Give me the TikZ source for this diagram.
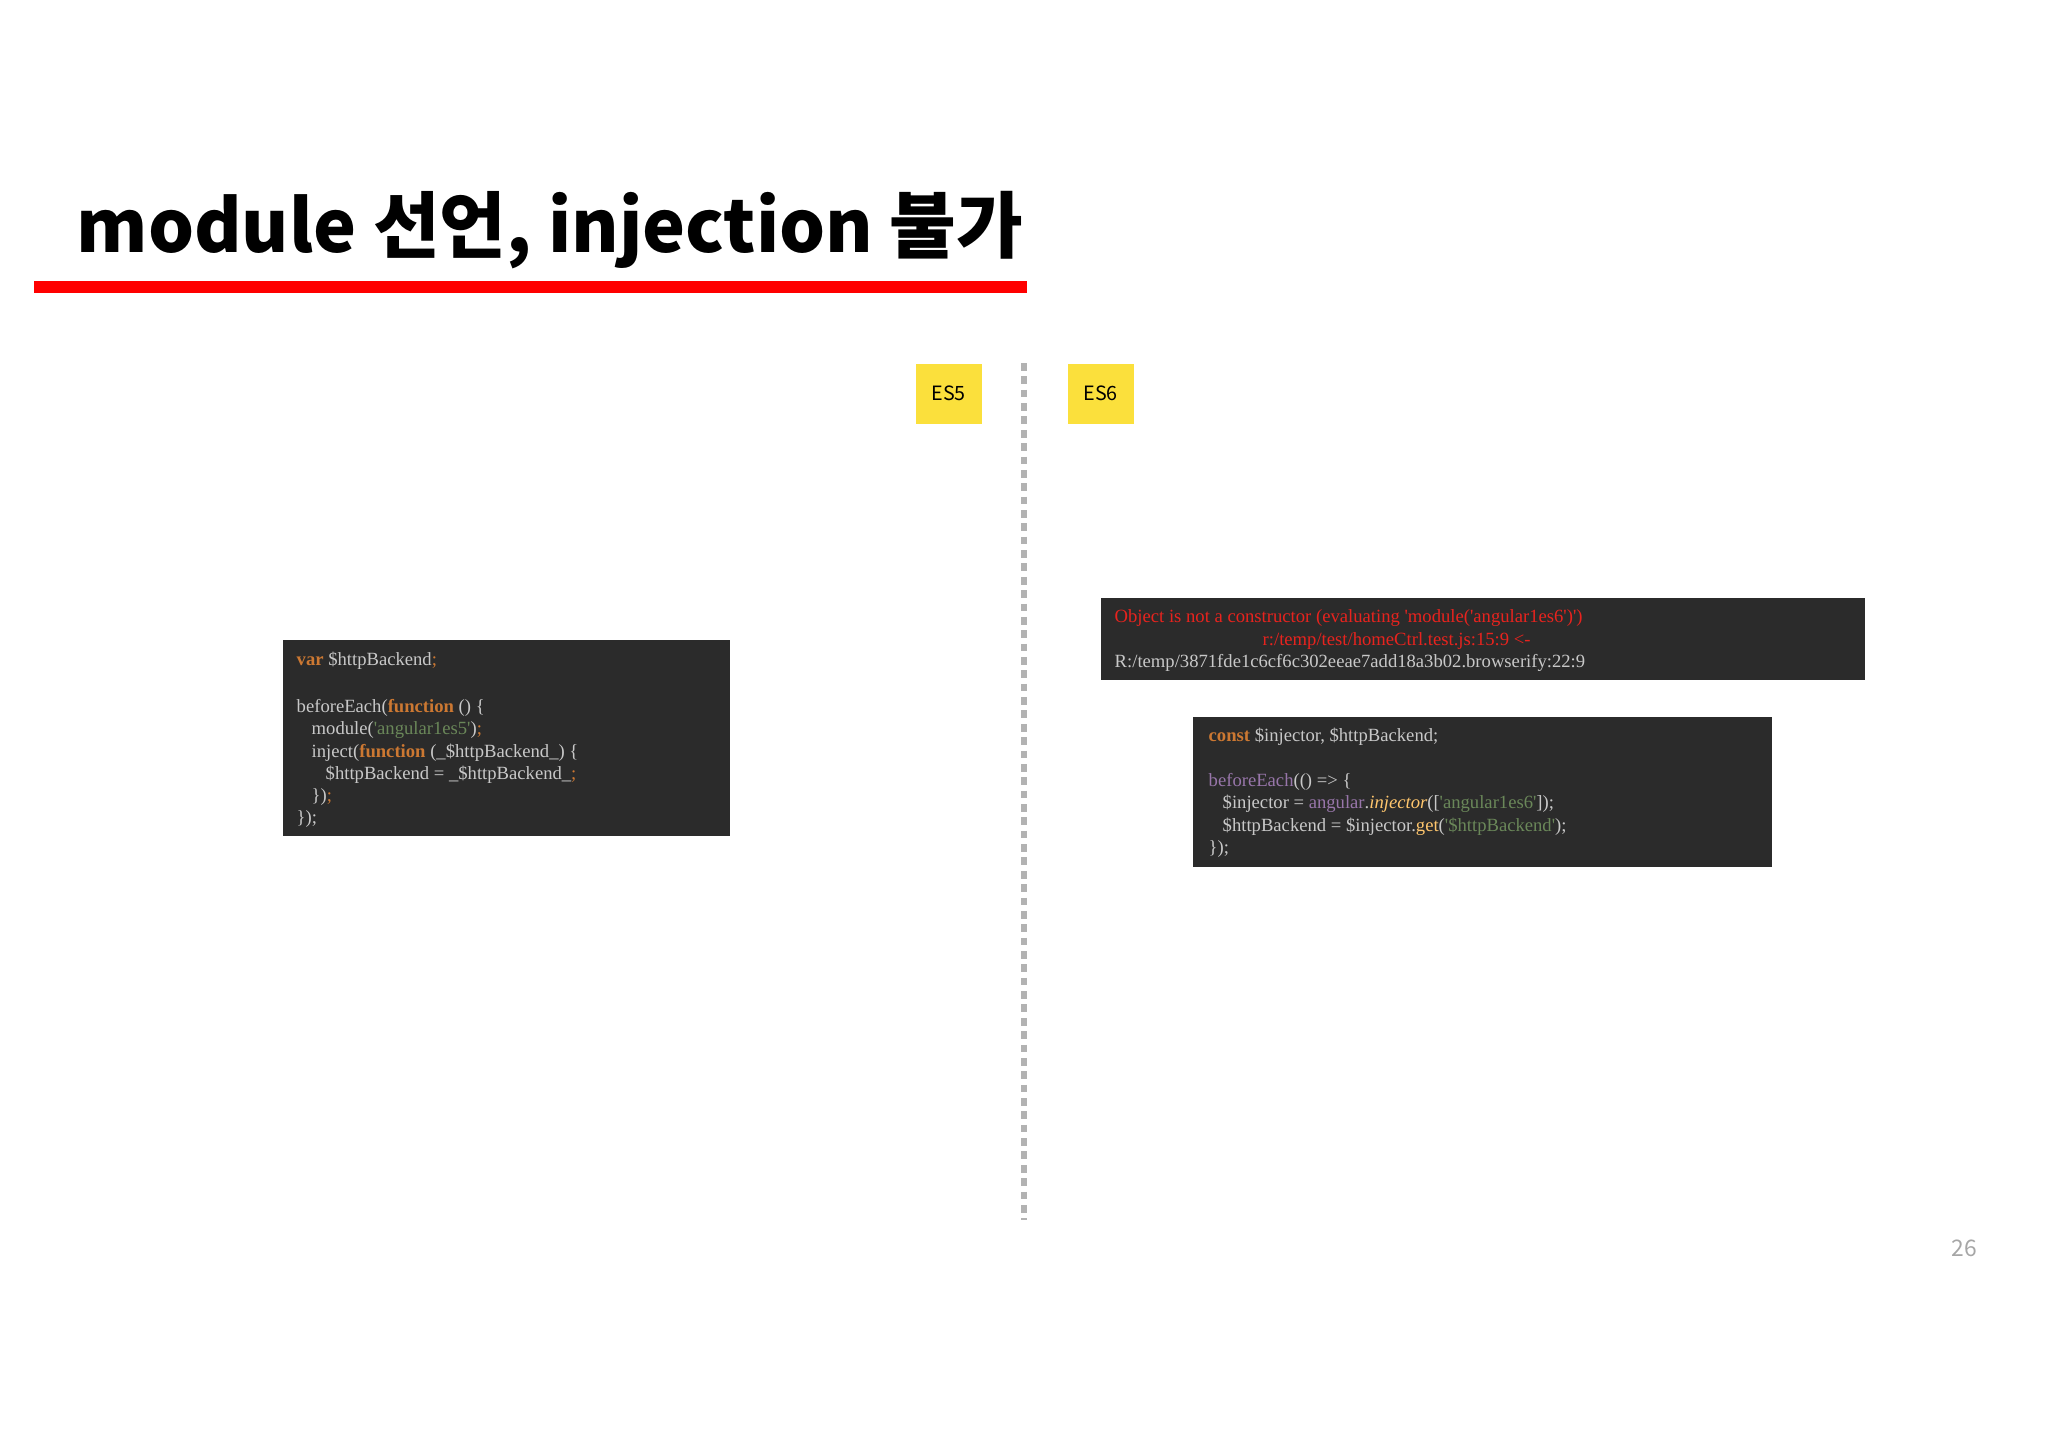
\documentclass[tikz,border=0pt]{standalone}
\usepackage{fontspec}
\usetikzlibrary{positioning}
\newfontfamily\krfont{Noto Sans CJK KR}
\newfontfamily\codefont{Liberation Serif}
\definecolor{codebg}{HTML}{2B2B2B}
\definecolor{codefg}{HTML}{C8C8C8}
\definecolor{kwcol}{HTML}{CC7832}
\definecolor{strcol}{HTML}{6A8759}
\definecolor{purcol}{HTML}{9876AA}
\definecolor{yelcol}{HTML}{FFC66D}
\definecolor{errcol}{HTML}{E8231E}
\definecolor{tagcol}{HTML}{FBE03C}
\newcommand{\kw}[1]{\textcolor{kwcol}{\bfseries #1}}
\newcommand{\str}[1]{\textcolor{strcol}{#1}}
\newcommand{\pur}[1]{\textcolor{purcol}{#1}}
\newcommand{\yel}[1]{\textcolor{yelcol}{#1}}
\newcommand{\sem}{\textcolor{kwcol}{;}}
\tikzstyle{codebox} = [rectangle, fill=codebg, draw=none, anchor=north west, inner sep=0pt]
\tikzstyle{codeline} = [anchor=base west, inner sep=0pt, text=codefg, font=\codefont\fontsize{5.3}{6.4}\selectfont]
\tikzstyle{tag} = [rectangle, fill=tagcol, minimum width=0.66cm, minimum height=0.60cm, inner sep=0pt, font=\krfont\fontsize{5.6}{6.4}\selectfont]

\begin{document}
\begin{tikzpicture}[x=0.01cm, y=-0.01cm]
    \useasboundingbox (0,0) rectangle (2048,1447);
    % title
    \node (title) [anchor=base west, inner sep=0pt, font=\krfont\bfseries\fontsize{20.6}{24}\selectfont] at (76,252) {module 선언, injection 불가};
    \fill[red] (34,281) rectangle (1027,293);

    % ES5 / ES6
    \node (es5) [tag, anchor=north west] at (915,363) {ES5};
    \node (es6) [tag, anchor=north west] at (1067,363) {ES6};
    \coordinate (divtop) at (1024,363);
    \coordinate (divbot) at (1024,1220);
    \draw[gray!60, line width=1.6pt, dash pattern=on 2.2pt off 1.6pt] (divtop) -- (divbot);

    % ES5 code
    \node (es5code) [codebox, minimum width=4.47cm, minimum height=1.96cm] at (282,639) {};
    \node (l1) [codeline] at (296,665) {\kw{var} \$httpBackend\sem};
    \node (l2) [codeline] at (296,712) {beforeEach(\kw{function} () \{};
    \node (l3) [codeline] at (311,734) {module(\str{'angular1es5'})\sem};
    \node (l4) [codeline] at (311,757) {inject(\kw{function} (\_\$httpBackend\_) \{};
    \node (l5) [codeline] at (325,779) {\$httpBackend = \_\$httpBackend\_\sem};
    \node (l6) [codeline] at (311,801) {\})\sem};
    \node (l7) [codeline] at (296,823) {\});};

    % ES6 error
    \node (errbox) [codebox, minimum width=7.64cm, minimum height=0.82cm] at (1100,597) {};
    \node (e1) [codeline, text=errcol] at (1114,622) {Object is not a constructor (evaluating 'module('angular1es6')')};
    \node (e2) [codeline, text=errcol] at (1262,645) {r:/temp/test/homeCtrl.test.js:15:9 <-};
    \node (e3) [codeline] at (1114,667) {R:/temp/3871fde1c6cf6c302eeae7add18a3b02.browserify:22:9};

    % ES6 code
    \node (es6code) [codebox, minimum width=5.79cm, minimum height=1.50cm] at (1192,716) {};
    \node (m1) [codeline] at (1208,741) {\kw{const} \$injector, \$httpBackend;};
    \node (m2) [codeline] at (1208,786) {\pur{beforeEach}(() => \{};
    \node (m3) [codeline] at (1222,808) {\$injector = \pur{angular}.\yel{\itshape injector}([\str{'angular1es6'}]);};
    \node (m4) [codeline] at (1222,831) {\$httpBackend = \$injector.\yel{get}(\str{'\$httpBackend'});};
    \node (m5) [codeline] at (1208,853) {\});};

    \node (page) [anchor=base east, inner sep=0pt, text=gray!70, font=\krfont\fontsize{6.5}{8}\selectfont] at (1978,1256) {26};
\end{tikzpicture}
\end{document}
